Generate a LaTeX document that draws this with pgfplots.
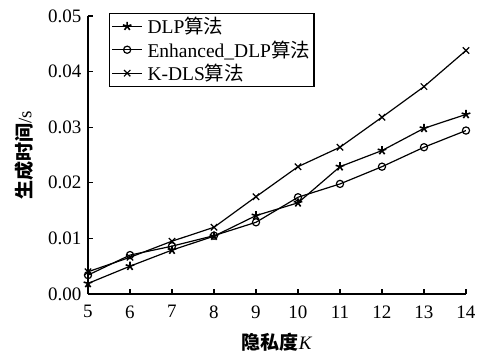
\documentclass[border=0pt]{standalone}
\usepackage{pgfplots}
\pgfplotsset{compat=1.18}
\usepackage{fontspec}
\setmainfont{Liberation Serif}
\newfontfamily\cjk{Noto Sans CJK SC}
\begin{document}
\begin{tikzpicture}
\begin{axis}[
  name=main,
  width=378pt, height=278pt, scale only axis,
  xmin=5, xmax=14, ymin=0, ymax=0.05,
  axis x line=bottom, axis y line=left,
  axis line style={-, line width=1.5pt},
  xtick={5,...,14},
  ytick={0,0.01,0.02,0.03,0.04,0.05},
  tick align=inside,
  major tick length=5pt,
  tick style={line width=1.3pt, black},
  /pgf/number format/assume math mode=true,
  scaled y ticks=false,
  tick label style={font=\fontsize{19}{22}\selectfont},
  xticklabel style={yshift=-8pt},
  yticklabel style={xshift=-3pt, /pgf/number format/.cd, fixed, fixed zerofill, precision=2},
  xlabel={{\cjk\bfseries 隐私度}\textit{K}},
  ylabel={{\cjk\bfseries 生成时间}/s},
  label style={font=\fontsize{19}{22}\selectfont},
  xlabel style={yshift=-8pt},
  ylabel style={yshift=8pt},
  legend style={at={(0.056,1.012)}, anchor=north west, draw=black, line width=1.2pt,
    font=\fontsize{19.5}{20}\selectfont, inner sep=2pt, row sep=1.5pt,
    column sep=3pt, nodes={inner sep=2pt}},
  legend cell align=left,
  legend image code/.code={
    \draw[mark repeat=2, mark phase=2] plot coordinates {(0cm,0cm) (0.52cm,0cm) (1.04cm,0cm)};},
  every axis plot/.append style={line width=1.2pt, black},
]
% DLP
\addplot[mark=star, mark size=4.5pt, mark options={line width=1.6pt}] coordinates {
  (5,0.0019) (6,0.0050) (7,0.0079) (8,0.0104) (9,0.0141)
  (10,0.0164) (11,0.0229) (12,0.0258) (13,0.0298) (14,0.0323)};
\addlegendentry{DLP{\cjk 算法}}
% Enhanced_DLP
\addplot[mark=o, mark size=3.6pt, mark options={line width=1.2pt}] coordinates {
  (5,0.0034) (6,0.0070) (7,0.0086) (8,0.0105) (9,0.0129)
  (10,0.0174) (11,0.0198) (12,0.0229) (13,0.0264) (14,0.0294)};
\addlegendentry{Enhanced\_DLP{\cjk 算法}}
% K-DLS
\addplot[mark=x, mark size=4.5pt, mark options={line width=1.2pt}] coordinates {
  (5,0.0040) (6,0.0066) (7,0.0095) (8,0.0120) (9,0.0175)
  (10,0.0229) (11,0.0264) (12,0.0318) (13,0.0373) (14,0.0438)};
\addlegendentry{K-DLS{\cjk 算法}}
\end{axis}
\pgfresetboundingbox
\useasboundingbox (main.south west) ++(-88pt,-60pt) rectangle ++(477pt,354pt);
\end{tikzpicture}
\end{document}
